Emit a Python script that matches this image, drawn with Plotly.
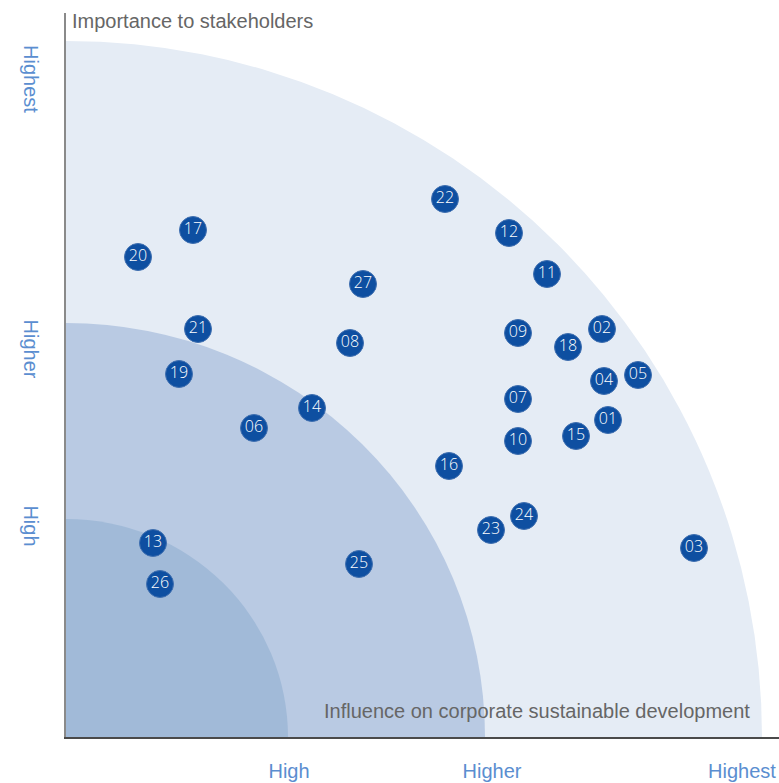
import plotly.graph_objects as go

# Issue ids and positions (influence, importance) in chart units
ids = ["01","02","03","04","05","06","07","08","09","10","11","12","13","14",
       "15","16","17","18","19","20","21","22","23","24","25","26","27"]
influence = [542, 536, 628, 538, 572, 188, 452, 284, 452, 452, 481, 443, 87, 246,
             510, 383, 127, 502, 113, 72, 132, 379, 425, 458, 293, 94, 297]
importance = [317, 408, 189, 356, 362, 309, 338, 394, 404, 296, 463, 504, 194, 329,
              301, 271, 507, 390, 363, 480, 408, 538, 207, 221, 173, 153, 453]

x_ticks = [223, 426, 676]
x_tick_labels = ["High", "Higher", "Highest"]
y_ticks = [208, 385, 655]
y_tick_labels = ["High", "Higher", "Highest"]

# zone radii (horizontal, vertical)
zone_rx = [696, 419, 222]
zone_ry = [696, 414, 218]
zone_colors = ["#e5ecf5", "#b9cae3", "#a1bad8"]

fig = go.Figure()
fig.add_trace(go.Scatter(
    x=influence, y=importance, mode="markers+text", text=ids,
    textposition="middle center",
    marker=dict(size=27, color="#0e4fa1", line=dict(width=1, color="#3f6fb0")),
    textfont=dict(family="Open Sans", size=16, color="white", weight=300),
    hoverinfo="skip", showlegend=False, cliponaxis=False,
))

shapes = []
for rx, ry, c in zip(zone_rx, zone_ry, zone_colors):
    shapes.append(dict(type="circle", xref="x", yref="y", x0=-rx, x1=rx, y0=-ry, y1=ry,
                       fillcolor=c, line=dict(width=0), layer="below"))

fig.update_layout(
    width=779, height=783,
    margin=dict(l=66, r=0, t=13, b=46),
    plot_bgcolor="white", paper_bgcolor="white",
    shapes=shapes,
    xaxis=dict(range=[0, 713], showgrid=False, zeroline=False, showline=True,
               linecolor="#4a4a4a", linewidth=2, tickvals=x_ticks, ticktext=x_tick_labels,
               ticks="", tickfont=dict(family="Liberation Sans", size=20, color="#5b8ed0"),
               ticklabelstandoff=15, fixedrange=True),
    yaxis=dict(range=[0, 724], showgrid=False, zeroline=False, showline=True,
               linecolor="#8a8a8a", linewidth=2, tickvals=y_ticks, ticktext=y_tick_labels,
               ticks="", tickangle=90,
               tickfont=dict(family="Liberation Sans", size=20, color="#5b8ed0"),
               ticklabelstandoff=16, fixedrange=True),
    annotations=[
        dict(text="Importance to stakeholders", xref="paper", yref="paper", x=0.006, y=1.0,
             xanchor="left", yanchor="middle", showarrow=False, yshift=-8,
             font=dict(family="Liberation Sans", size=20, color="#666666")),
        dict(text="Influence on corporate sustainable development", xref="paper", yref="paper",
             x=0.962, y=0.0, xanchor="right", yanchor="middle", showarrow=False, yshift=26,
             font=dict(family="Liberation Sans", size=20, color="#666666")),
    ],
)

fig.write_html("out.html", config={"displayModeBar": False},
               post_script="document.body.style.margin='0';")
